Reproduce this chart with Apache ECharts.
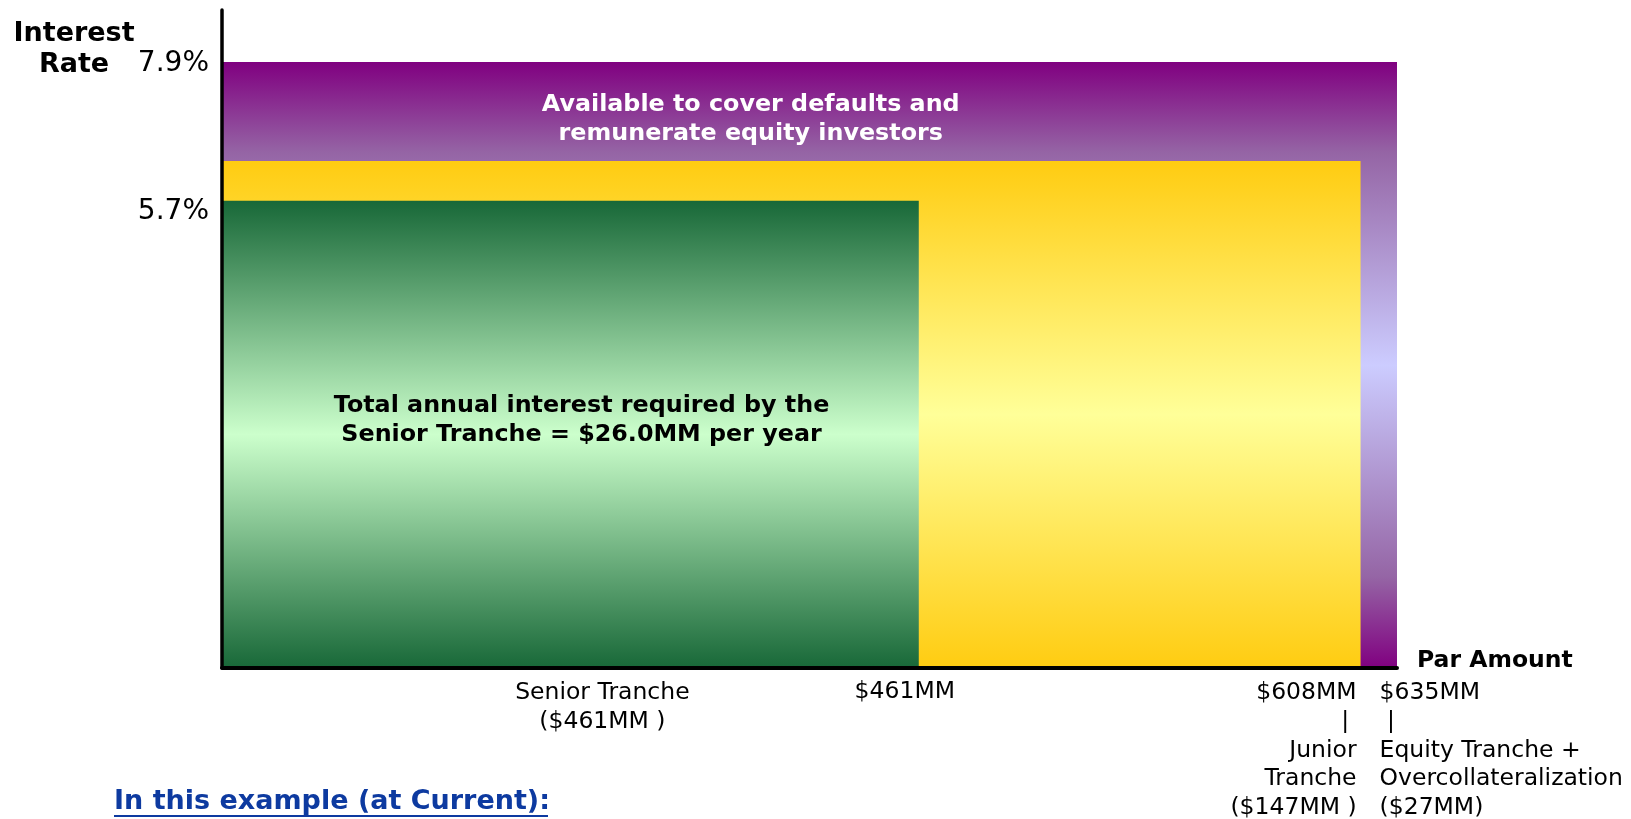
<!DOCTYPE html>
<html><head><meta charset="utf-8">
<script src="https://cdn.jsdelivr.net/npm/echarts@6/dist/echarts.min.js"></script>
<style>html,body{margin:0;padding:0;background:#fff}#c{width:1631px;height:819px}</style>
</head><body><div id="c"></div>
<script>
// ---- data ----
const tranches = ['Senior Tranche', 'Junior Tranche', 'Equity Tranche + Overcollateralization'];
const parAmounts = [461, 147, 27];          // $MM per tranche
const cumulativePar = [461, 608, 635];      // $MM, cumulative boundaries
const rateLabels = ['5.7%', '7.9%'];
// schematic extents of the drawn bands (share of axis, 0-100), not to scale in the original
const bandRight = [59.3, 96.9, 100];
const bandTop = [71.0, 77.05, 92.1];
const boxTexts = ['Total annual interest required by the\nSenior Tranche = $26.0MM per year',
                  'Available to cover defaults and\nremunerate equity investors'];
const axisNames = ['Interest\nRate', 'Par Amount'];
const footnote = 'In this example (at Current):';

const F = "'DejaVu Sans', Verdana, sans-serif";
const grads = [
  [[0, '#186838'], [0.5, '#CCFFCC'], [1, '#186838']],
  [[0, '#FFCC11'], [0.5, '#FFFF99'], [1, '#FFCC11']],
  [[0, '#800080'], [0.15, '#9565A5'], [0.5, '#CCCCFF'], [0.85, '#9565A5'], [1, '#800080']]
];
function grad(c) {
  return {type: 'linear', x: 0, y: 0, x2: 0, y2: 1,
    colorStops: c.map(s => ({offset: s[0], color: s[1]}))};
}

const bandData = [2, 1, 0].map(i => [0, bandRight[i], 0, bandTop[i], i]);

function renderBand(params, api) {
  const p0 = api.coord([api.value(0), api.value(3)]);
  const p1 = api.coord([api.value(1), api.value(2)]);
  return {type: 'rect', shape: {x: p0[0], y: p0[1], width: p1[0] - p0[0], height: p1[1] - p0[1]},
    style: {fill: grad(grads[api.value(4)])}};
}

function renderLabels(params, api) {
  const origin = api.coord([0, 0]);
  const x0 = origin[0], y0 = origin[1];
  const xs = bandRight.map(v => api.coord([v, 0])[0]);
  const ys = bandTop.map(v => api.coord([0, v])[1]);
  const base = {fontFamily: F, fontSize: 23.5, fill: '#000', lineHeight: 28.75, verticalAlign: 'top'};
  const bold = {fontFamily: F, fontWeight: 'bold', fontSize: 23.8, lineHeight: 29, verticalAlign: 'middle', align: 'center'};
  const jr = tranches[1].split(' ');
  const eq = tranches[2].replace(' + ', ' +\n');
  const st = (o) => Object.assign({}, base, o);
  const sb = (o) => Object.assign({}, bold, o);
  return {type: 'group', children: [
    // y labels
    {type: 'text', x: x0 - 13, y: ys[2] + 1.5, style: {fontFamily: F, fontSize: 28, fill: '#000', align: 'right', verticalAlign: 'middle', text: rateLabels[1]}},
    {type: 'text', x: x0 - 13, y: ys[0] + 11, style: {fontFamily: F, fontSize: 28, fill: '#000', align: 'right', verticalAlign: 'middle', text: rateLabels[0]}},
    // x labels
    {type: 'text', x: api.coord([bandRight[0] / 2, 0])[0] + 32, y: y0 + 11,
      style: st({align: 'center', text: tranches[0] + '\n($' + parAmounts[0] + 'MM )'})},
    {type: 'text', x: xs[0] - 14, y: y0 + 10,
      style: st({align: 'center', text: '$' + cumulativePar[0] + 'MM'})},
    {type: 'text', x: xs[1] - 4, y: y0 + 10.6,
      style: st({align: 'right', text: ['$' + cumulativePar[1] + 'MM', '| ', jr[0], jr[1], '($' + parAmounts[1] + 'MM )'].join('\n')})},
    {type: 'text', x: xs[1] + 19, y: y0 + 10.6,
      style: st({align: 'left', text: ['$' + cumulativePar[2] + 'MM', ' |', eq, '($' + parAmounts[2] + 'MM)'].join('\n')})},
    {type: 'text', x: xs[2] + 20, y: y0 - 7,
      style: {fontFamily: F, fontWeight: 'bold', fontSize: 23.5, fill: '#000', align: 'left', verticalAlign: 'middle', text: axisNames[1]}},
    // in-box texts
    {type: 'text', x: api.coord([45, 0])[0], y: (ys[2] + ys[1]) / 2 + 8,
      style: sb({fill: '#fff', text: boxTexts[1]})},
    {type: 'text', x: api.coord([30.6, 0])[0], y: ys[0] + 220,
      style: sb({fill: '#000', text: boxTexts[0]})}
  ]};
}

const chart = echarts.init(document.getElementById('c'), null, {renderer: 'canvas'});
chart.setOption({
  animation: false,
  backgroundColor: '#fff',
  grid: {left: 222, right: 234, top: 10, bottom: 151, outerBoundsMode: 'none'},
  xAxis: {type: 'value', min: 0, max: 100, z: 10,
    axisLine: {show: true, onZero: false, lineStyle: {color: '#000', width: 4}},
    axisTick: {show: false}, axisLabel: {show: false}, splitLine: {show: false}},
  yAxis: {type: 'value', min: 0, max: 100, z: 10,
    axisLine: {show: true, onZero: false, lineStyle: {color: '#000', width: 3.5}},
    axisTick: {show: false}, axisLabel: {show: false}, splitLine: {show: false}},
  graphic: [
    {type: 'text', x: 74, y: 49, style: {text: axisNames[0], fontFamily: F, fontWeight: 'bold', fontSize: 27, lineHeight: 31, fill: '#000', align: 'center', verticalAlign: 'middle'}},
    {type: 'text', x: 114, y: 802, style: {text: footnote, fontFamily: F, fontWeight: 'bold', fontSize: 27, fill: '#0D3AA0', align: 'left', verticalAlign: 'middle'}},
    {type: 'rect', x: 114, y: 815, shape: {width: 434, height: 2}, style: {fill: '#0D3AA0'}}
  ],
  series: [
    {type: 'custom', name: 'bands', renderItem: renderBand, data: bandData,
      encode: {x: [0, 1], y: [2, 3]}, z: 2},
    {type: 'custom', name: 'labels', renderItem: renderLabels, data: [[0, 0]], z: 5, silent: true}
  ]
});
</script></body></html>
